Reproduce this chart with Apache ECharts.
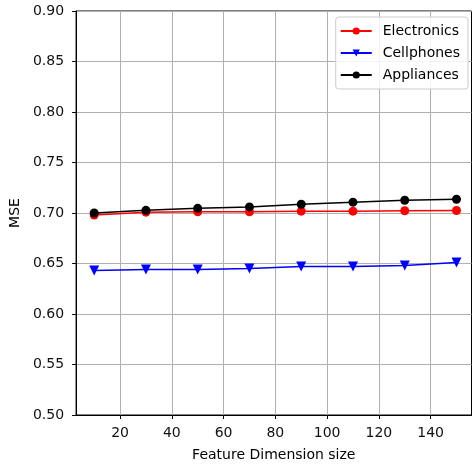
<!DOCTYPE html>
<html>
<head>
<meta charset="utf-8">
<script src="https://cdn.jsdelivr.net/npm/echarts@6/dist/echarts.min.js"></script>
<style>html,body{margin:0;padding:0;background:#fff;}#c{width:476px;height:467px;}</style>
</head>
<body>
<div id="c"></div>
<script>
const featureDims = [10, 30, 50, 70, 90, 110, 130, 150];
const electronics = [0.698, 0.7008, 0.7012, 0.7012, 0.7018, 0.7018, 0.7022, 0.7025];
const cellphones = [0.643, 0.644, 0.644, 0.645, 0.647, 0.647, 0.648, 0.651];
const appliances = [0.700, 0.7026, 0.7046, 0.706, 0.7087, 0.7107, 0.7126, 0.7136];
const xTicks = [20, 40, 60, 80, 100, 120, 140];
const yTicks = [0.50, 0.55, 0.60, 0.65, 0.70, 0.75, 0.80, 0.85, 0.90];

const font = 'DejaVu Sans';
const pair = arr => featureDims.map((x, i) => [x, arr[i]]);

const chart = echarts.init(document.getElementById('c'));
chart.setOption({
  animation: false,
  backgroundColor: '#fff',
  grid: { left: 75, right: 4.5, top: 11, bottom: 51, show: true, borderColor: '#000', borderWidth: 1 },
  xAxis: {
    type: 'value', min: 3, max: 155.8,
    name: 'Feature Dimension size', nameLocation: 'middle', nameGap: 33,
    nameTextStyle: { fontFamily: font, fontSize: 14, color: '#000' },
    axisLine: { show: true, onZero: false, lineStyle: { color: '#000', width: 1 } },
    axisTick: { show: true, length: 4, customValues: xTicks, lineStyle: { color: '#000' } },
    axisLabel: { customValues: xTicks, margin: 11, fontFamily: font, fontSize: 14, color: '#111' },
    splitLine: { show: true, lineStyle: { color: '#b0b0b0', width: 1 } }
  },
  yAxis: {
    type: 'value', min: 0.5, max: 0.9, interval: 0.05,
    name: 'MSE', nameLocation: 'middle', nameGap: 40, nameRotate: 90,
    nameTextStyle: { fontFamily: font, fontSize: 14, color: '#000' },
    axisLine: { show: true, onZero: false, lineStyle: { color: '#000', width: 1 } },
    axisTick: { show: true, length: 4, lineStyle: { color: '#000' } },
    axisLabel: { margin: 12, fontFamily: font, fontSize: 14, color: '#111', formatter: v => v.toFixed(2) },
    splitLine: { show: true, lineStyle: { color: '#b0b0b0', width: 1 } }
  },
  legend: {
    orient: 'vertical', right: 8, top: 17,
    backgroundColor: 'rgba(255,255,255,0.85)', borderColor: '#ccc', borderWidth: 1, borderRadius: 3,
    padding: [7, 8, 7, 4], itemGap: 8, itemWidth: 31, itemHeight: 9,
    textStyle: { fontFamily: font, fontSize: 14, color: '#000', padding: [0, 0, 0, 6] },
    data: ['Electronics', 'Cellphones', 'Appliances']
  },
  series: [
    { name: 'Electronics', type: 'line', data: pair(electronics), color: '#ff0000',
      symbol: 'circle', symbolSize: 9, lineStyle: { width: 1.5 }, z: 3 },
    { name: 'Cellphones', type: 'line', data: pair(cellphones), color: '#0000ff',
      symbol: 'triangle', symbolRotate: 180, symbolSize: 10, lineStyle: { width: 1.5 }, z: 3 },
    { name: 'Appliances', type: 'line', data: pair(appliances), color: '#000000',
      symbol: 'circle', symbolSize: 9, lineStyle: { width: 1.5 }, z: 3 }
  ]
});
</script>
</body>
</html>
